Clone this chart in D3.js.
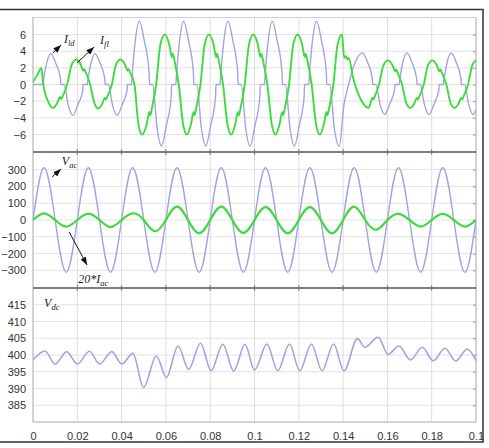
<!DOCTYPE html>
<html>
<head>
<meta charset="utf-8">
<script src="https://cdn.jsdelivr.net/npm/d3@7"></script>
<style>
body { margin: 0; background: #fff; }
svg { display: block; }
.tick text { font-family: "Liberation Sans", Arial, sans-serif; font-size: 11px; fill: #333; }
.note { font-family: "Liberation Serif", "Times New Roman", serif; font-style: italic; fill: #222; }
</style>
</head>
<body>
<svg id="chart"></svg>
<script>
// x axis (seconds)
var xTicks = [0, 0.02, 0.04, 0.06, 0.08, 0.1, 0.12, 0.14, 0.16, 0.18, 0.2];
var xTickLabels = ["0", "0.02", "0.04", "0.06", "0.08", "0.1", "0.12", "0.14", "0.16", "0.18", "0.1"];

// panel tick values
var topTicks = [-6, -4, -2, 0, 2, 4, 6];
var midTicks = [-300, -200, -100, 0, 100, 200, 300];
var botTicks = [385, 390, 395, 400, 405, 410, 415];

// I_ld  [t, A]
var ildPoints = [
  [0, 0], [0.0045, 0], [0.0047, 0.4], [0.0062, 2.6], [0.008, 3.7], [0.0102, 2.6], [0.0124, 0.7], [0.0126, 0],
  [0.014, 0], [0.016, -2.6], [0.018, -3.7], [0.0203, -2.4], [0.0224, -0.8], [0.0226, 0],
  [0.0245, 0], [0.0247, 0.4], [0.0262, 2.6], [0.028, 3.7], [0.0302, 2.6], [0.0324, 0.7], [0.0326, 0],
  [0.034, 0], [0.036, -2.6], [0.038, -3.7], [0.0403, -2.4], [0.0424, -0.8], [0.0426, 0],
  [0.0445, 0], [0.0447, 0.8], [0.0462, 5.3], [0.048, 7.6], [0.0502, 5.3], [0.0524, 1.5], [0.0526, 0],
  [0.054, 0], [0.056, -5.2], [0.058, -7.4], [0.0603, -4.8], [0.0624, -1.5], [0.0626, 0],
  [0.0645, 0], [0.0647, 0.8], [0.0662, 5.3], [0.068, 7.6], [0.0702, 5.3], [0.0724, 1.5], [0.0726, 0],
  [0.074, 0], [0.076, -5.2], [0.078, -7.4], [0.0803, -4.8], [0.0824, -1.5], [0.0826, 0],
  [0.0845, 0], [0.0847, 0.8], [0.0862, 5.3], [0.088, 7.6], [0.0902, 5.3], [0.0924, 1.5], [0.0926, 0],
  [0.094, 0], [0.096, -5.2], [0.098, -7.4], [0.1003, -4.8], [0.1024, -1.5], [0.1026, 0],
  [0.1045, 0], [0.1047, 0.8], [0.1062, 5.3], [0.108, 7.6], [0.1102, 5.3], [0.1124, 1.5], [0.1126, 0],
  [0.114, 0], [0.116, -5.2], [0.118, -7.4], [0.1203, -4.8], [0.1224, -1.5], [0.1226, 0],
  [0.1245, 0], [0.1247, 0.8], [0.1262, 5.3], [0.128, 7.6], [0.1302, 5.3], [0.1324, 1.5], [0.1326, 0],
  [0.134, 0], [0.136, -5.2], [0.1383, -7.4], [0.1403, -2.6], [0.1425, 0],
  [0.1455, 2.7], [0.1488, 3.8], [0.151, 2.7], [0.1532, 0.7], [0.1534, 0],
  [0.1548, 0], [0.1568, -2.5], [0.1588, -3.6], [0.1611, -2.3], [0.1632, -0.7], [0.1634, 0],
  [0.1653, 0], [0.1655, 0.4], [0.167, 2.7], [0.1688, 3.8], [0.171, 2.7], [0.1732, 0.7], [0.1734, 0],
  [0.1748, 0], [0.1768, -2.5], [0.1788, -3.6], [0.1811, -2.3], [0.1832, -0.7], [0.1834, 0],
  [0.1853, 0], [0.1855, 0.4], [0.187, 2.7], [0.1888, 3.8], [0.191, 2.7], [0.1932, 0.7], [0.1934, 0],
  [0.1948, 0], [0.1968, -2.5], [0.1988, -3.6], [0.2, -3.0]
];

// I_fl  [t, A]
var iflPoints = [
  [0, 0.3], [0.002, 1.2], [0.0038, 2.0], [0.0046, 0.1], [0.0068, -2.0], [0.0088, -2.8], [0.0108, -2.3],
  [0.0122, -1.5], [0.0126, -1.75], [0.0136, -1.3], [0.0154, 0], [0.0175, 2.4], [0.0195, 3.0],
  [0.0215, 2.4], [0.0227, 1.65], [0.0231, 1.85], [0.024, 1.35], [0.0258, 0], [0.0278, -2.3], [0.0295, -2.9],
  [0.0313, -2.3], [0.0325, -1.6], [0.0329, -1.8], [0.0338, -1.3], [0.0356, 0], [0.0375, 2.4], [0.0395, 3.0],
  [0.0415, 2.4], [0.0427, 1.65], [0.0431, 1.85], [0.044, 1.35], [0.0458, 0], [0.0476, -4.8], [0.0492, -6.0],
  [0.0513, -4.8], [0.0525, -3.3], [0.0529, -3.7], [0.0538, -2.7], [0.0556, 0], [0.0575, 4.8], [0.0595, 6.0],
  [0.0615, 4.8], [0.0627, 3.3], [0.0631, 3.7], [0.064, 2.7], [0.0658, 0], [0.0678, -4.8], [0.0695, -6.0],
  [0.0713, -4.8], [0.0725, -3.3], [0.0729, -3.7], [0.0738, -2.7], [0.0756, 0], [0.0775, 4.8], [0.0795, 6.0],
  [0.0815, 4.8], [0.0827, 3.3], [0.0831, 3.7], [0.084, 2.7], [0.0858, 0], [0.0878, -4.8], [0.0895, -6.0],
  [0.0913, -4.8], [0.0925, -3.3], [0.0929, -3.7], [0.0938, -2.7], [0.0956, 0], [0.0975, 4.8], [0.0995, 6.0],
  [0.1015, 4.8], [0.1027, 3.3], [0.1031, 3.7], [0.104, 2.7], [0.1058, 0], [0.1078, -4.8], [0.1095, -6.0],
  [0.1113, -4.8], [0.1125, -3.3], [0.1129, -3.7], [0.1138, -2.7], [0.1156, 0], [0.1175, 4.8], [0.1195, 6.0],
  [0.1215, 4.8], [0.1227, 3.3], [0.1231, 3.7], [0.124, 2.7], [0.1258, 0], [0.1278, -4.8], [0.1295, -6.0],
  [0.1313, -4.8], [0.1325, -3.3], [0.1329, -3.7], [0.1338, -2.7], [0.1356, 0], [0.1375, 4.8], [0.1395, 6.0],
  [0.1405, 3.2], [0.1413, 3.4], [0.142, 3.0], [0.1425, 3.2], [0.1445, 0.8], [0.148, -1.8], [0.1516, -2.8],
  [0.1532, -1.6], [0.1536, -1.8], [0.1545, -1.3], [0.1562, 0], [0.1582, 2.3], [0.1603, 2.9],
  [0.1623, 2.3], [0.1635, 1.6], [0.1639, 1.8], [0.1648, 1.3], [0.1666, 0], [0.1686, -2.3], [0.1703, -2.8],
  [0.1721, -2.3], [0.1733, -1.6], [0.1737, -1.8], [0.1746, -1.3], [0.1764, 0], [0.1783, 2.3], [0.1803, 2.9],
  [0.1823, 2.3], [0.1835, 1.6], [0.1839, 1.8], [0.1848, 1.3], [0.1866, 0], [0.1886, -2.3], [0.1903, -2.8],
  [0.1921, -2.3], [0.1933, -1.6], [0.1937, -1.8], [0.1946, -1.3], [0.1964, 0], [0.1983, 2.3], [0.2, 2.9]
];

// V_ac  [t, V]
var vacPoints = [
  [0, 0], [0.005, 311], [0.01, 0], [0.015, -311], [0.02, 0], [0.025, 311], [0.03, 0], [0.035, -311],
  [0.04, 0], [0.045, 311], [0.05, 0], [0.055, -311], [0.06, 0], [0.065, 311], [0.07, 0], [0.075, -311],
  [0.08, 0], [0.085, 311], [0.09, 0], [0.095, -311], [0.1, 0], [0.105, 311], [0.11, 0], [0.115, -311],
  [0.12, 0], [0.125, 311], [0.13, 0], [0.135, -311], [0.14, 0], [0.145, 311], [0.15, 0], [0.155, -311],
  [0.16, 0], [0.165, 311], [0.17, 0], [0.175, -311], [0.18, 0], [0.185, 311], [0.19, 0], [0.195, -311], [0.2, 0]
];

// 20*I_ac  [t, A]
var iacPoints = [
  [0, 0], [0.005, 40], [0.01, 0], [0.015, -39], [0.02, 0], [0.025, 38], [0.03, 0], [0.035, -42],
  [0.04, 0], [0.045, 40], [0.05, 0], [0.055, -67], [0.06, 0], [0.065, 80], [0.07, 0], [0.075, -79],
  [0.08, 0], [0.085, 80], [0.09, 0], [0.095, -77], [0.1, 0], [0.105, 77], [0.11, 0], [0.115, -79],
  [0.12, 0], [0.125, 77], [0.13, 0], [0.135, -79], [0.14, 0], [0.145, 80], [0.15, 0], [0.155, -58],
  [0.16, 0], [0.165, 37], [0.17, 0], [0.175, -39], [0.18, 0], [0.185, 37], [0.19, 0], [0.195, -39], [0.2, 0]
];

// V_dc  [t, V]
var vdcPoints = [
  [0, 398.5], [0.0054, 401.2], [0.01, 397.3], [0.0152, 401], [0.02, 397.3], [0.0255, 401.1], [0.03, 397.3],
  [0.0356, 401], [0.0401, 397.3], [0.0451, 400.5], [0.0499, 390.3], [0.0557, 399.7], [0.0602, 393.3],
  [0.0655, 402.7], [0.0703, 395.7], [0.0756, 403.5], [0.0804, 395.3], [0.0857, 403.2], [0.0906, 395.2],
  [0.0957, 403.2], [0.1, 395.5], [0.1056, 403.3], [0.1105, 395.3], [0.1158, 403.3], [0.1204, 395.3],
  [0.1257, 403.3], [0.1305, 395.3], [0.1357, 403.3], [0.1404, 395.3], [0.1465, 404.9], [0.1498, 402.3],
  [0.1558, 405.3], [0.1603, 400.2], [0.1652, 402.7], [0.1704, 398.5], [0.1757, 402.3], [0.1807, 398.3],
  [0.186, 402], [0.1908, 398.2], [0.1961, 401.8], [0.2, 398.2]
];

var width = 489;
var height = 448;
var left = 33, right = 476;
var blue = "#a3a3e3";
var green = "#3ddc3d";

var svg = d3.select("#chart").attr("width", width).attr("height", height);

var x = d3.scaleLinear().domain([0, 0.2]).range([left, right]);

var panels = [
  { id: "p1", top: 17, bottom: 152, domain: [-8.1, 8.1], ticks: topTicks },
  { id: "p2", top: 152, bottom: 288, domain: [-405, 405], ticks: midTicks },
  { id: "p3", top: 288, bottom: 422, domain: [380, 420], ticks: botTicks }
];

var defs = svg.append("defs");
defs.append("marker")
  .attr("id", "arrow")
  .attr("viewBox", "0 0 8 6")
  .attr("refX", 8).attr("refY", 3)
  .attr("markerWidth", 8).attr("markerHeight", 6)
  .attr("markerUnits", "userSpaceOnUse")
  .attr("orient", "auto")
  .append("path").attr("d", "M0,0 L8,3 L0,6 Z").attr("fill", "#111");

panels.forEach(function (p) {
  p.y = d3.scaleLinear().domain(p.domain).range([p.bottom, p.top]);

  defs.append("clipPath").attr("id", "clip-" + p.id)
    .append("rect").attr("x", left).attr("y", p.top)
    .attr("width", right - left).attr("height", p.bottom - p.top);

  var g = svg.append("g");

  // grid
  g.selectAll(".hg").data(p.ticks).enter().append("line")
    .attr("x1", left).attr("x2", right)
    .attr("y1", function (d) { return p.y(d); }).attr("y2", function (d) { return p.y(d); })
    .attr("stroke", "#e2e2e2").attr("stroke-width", 1);
  g.selectAll(".vg").data(xTicks.slice(1, -1)).enter().append("line")
    .attr("x1", function (d) { return x(d); }).attr("x2", function (d) { return x(d); })
    .attr("y1", p.top).attr("y2", p.bottom)
    .attr("stroke", "#dedede").attr("stroke-width", 1);

  // left labels
  g.append("g")
    .attr("transform", "translate(" + left + ",0)")
    .call(d3.axisLeft(p.y).tickValues(p.ticks).tickSize(0).tickPadding(7))
    .call(function (a) { a.select(".domain").remove(); });

  // small right ticks
  g.append("g")
    .attr("transform", "translate(" + right + ",0)")
    .call(d3.axisLeft(p.y).tickValues(p.ticks).tickSize(3).tickFormat(""))
    .call(function (a) {
      a.select(".domain").remove();
      a.selectAll("line").attr("stroke", "#999");
    });

  // borders
  g.append("line").attr("x1", left).attr("x2", left).attr("y1", p.top).attr("y2", p.bottom)
    .attr("stroke", "#a8a8a8");
  g.append("line").attr("x1", right).attr("x2", right).attr("y1", p.top).attr("y2", p.bottom)
    .attr("stroke", "#a8a8a8");
});

// horizontal borders
svg.append("line").attr("x1", left).attr("x2", right).attr("y1", 17.5).attr("y2", 17.5).attr("stroke", "#cfcfcf");
svg.append("line").attr("x1", left).attr("x2", right).attr("y1", 422).attr("y2", 422).attr("stroke", "#a8a8a8");
[152, 288].forEach(function (yy) {
  svg.append("line").attr("x1", left).attr("x2", right).attr("y1", yy).attr("y2", yy)
    .attr("stroke", "#555").attr("stroke-width", 1.5);
  svg.selectAll(null).data(xTicks.slice(1, -1)).enter().append("line")
    .attr("x1", function (d) { return x(d); }).attr("x2", function (d) { return x(d); })
    .attr("y1", yy - 3).attr("y2", yy + 3).attr("stroke", "#777");
});

function drawLine(p, data, color, w, curve) {
  var line = d3.line()
    .x(function (d) { return x(d[0]); })
    .y(function (d) { return p.y(d[1]); })
    .curve(curve);
  svg.append("path")
    .datum(data)
    .attr("clip-path", "url(#clip-" + p.id + ")")
    .attr("fill", "none")
    .attr("stroke", color)
    .attr("stroke-width", w)
    .attr("stroke-linejoin", "round")
    .attr("d", line);
}

drawLine(panels[0], ildPoints, blue, 1.4, d3.curveMonotoneX);
drawLine(panels[0], iflPoints, green, 1.9, d3.curveMonotoneX);
drawLine(panels[1], vacPoints, blue, 1.4, d3.curveNatural);
drawLine(panels[1], iacPoints, green, 2.2, d3.curveNatural);
drawLine(panels[2], vdcPoints, blue, 1.6, d3.curveMonotoneX);

// x axis labels
svg.append("g")
  .attr("transform", "translate(0,422)")
  .call(d3.axisBottom(x).tickValues(xTicks).tickSize(0).tickPadding(10)
    .tickFormat(function (d, i) { return xTickLabels[i]; }))
  .call(function (a) { a.select(".domain").remove(); });

// annotations (data coordinates of each panel)
var arrows = [
  { panel: 0, from: [0.009, 3.8], to: [0.0127, 4.75] },
  { panel: 0, from: [0.0199, 2.6], to: [0.0276, 4.5] },
  { panel: 1, from: [0.0086, 256], to: [0.0127, 304] },
  { panel: 1, from: [0.0163, -71], to: [0.0244, -268] }
];
arrows.forEach(function (a) {
  var p = panels[a.panel];
  svg.append("line")
    .attr("x1", x(a.from[0])).attr("y1", p.y(a.from[1]))
    .attr("x2", x(a.to[0])).attr("y2", p.y(a.to[1]))
    .attr("stroke", "#111").attr("stroke-width", 1)
    .attr("marker-end", "url(#arrow)");
});

var notes = [
  { panel: 0, t: 0.014, v: 4.98, main: "I", sub: "ld" },
  { panel: 0, t: 0.0303, v: 4.86, main: "I", sub: "fl" },
  { panel: 1, t: 0.013, v: 328, main: "V", sub: "ac" },
  { panel: 1, t: 0.0204, v: -375, main: "20*I", sub: "ac" },
  { panel: 2, t: 0.005, v: 414.3, main: "V", sub: "dc" }
];
notes.forEach(function (n) {
  var p = panels[n.panel];
  var t = svg.append("text").attr("class", "note")
    .attr("x", x(n.t)).attr("y", p.y(n.v))
    .attr("font-size", 12);
  t.append("tspan").text(n.main);
  t.append("tspan").attr("dy", 3).attr("font-size", 8.5).text(n.sub);
});

// outer frame
svg.append("path")
  .attr("d", "M0,9.5 H483 V442 H0")
  .attr("fill", "none").attr("stroke", "#333").attr("stroke-width", 1.5);
</script>
</body>
</html>
